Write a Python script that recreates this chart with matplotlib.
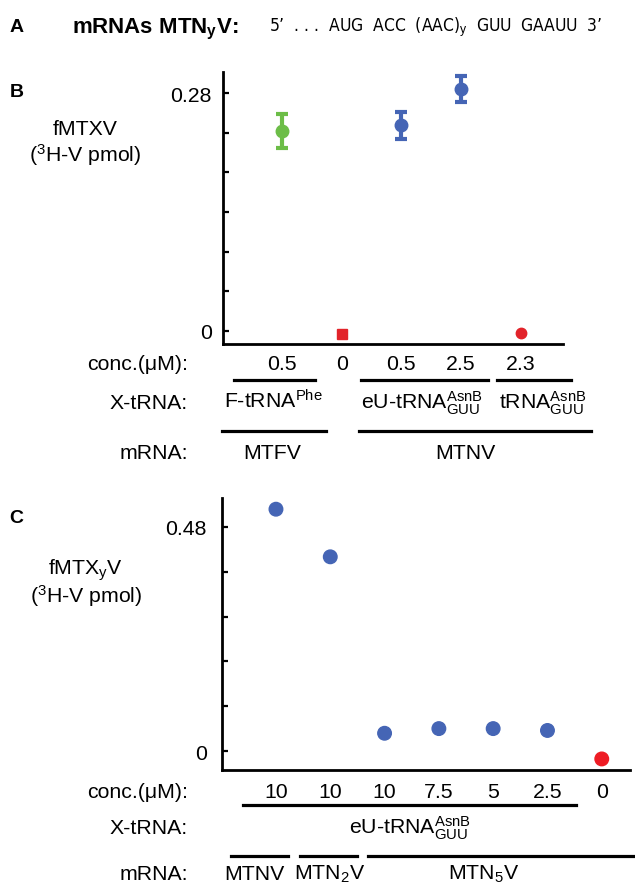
import numpy as np
import matplotlib.pyplot as plt
from matplotlib.lines import Line2D
from matplotlib.transforms import blended_transform_factory

W, H = 635, 887
plt.rcParams['font.family'] = ['Liberation Sans', 'DejaVu Sans']
plt.rcParams['mathtext.fontset'] = 'custom'
plt.rcParams['mathtext.rm'] = 'Liberation Sans'
plt.rcParams['mathtext.it'] = 'Liberation Sans:italic'
plt.rcParams['mathtext.bf'] = 'Liberation Sans:bold'

BLUE = '#4565b5'
GREEN = '#6cbd47'
RED = '#e2232a'

# panel B values
b_pos = [1, 2, 3, 4, 5]
b_vals = [0.235, -0.004, 0.242, 0.285, -0.003]
b_err = [0.020, 0.0, 0.016, 0.015, 0.0]
b_colors = [GREEN, RED, BLUE, BLUE, RED]
b_markers = ['o', 's', 'o', 'o', 'o']
b_conc = ['0.5', '0', '0.5', '2.5', '2.3']
b_ticks = np.linspace(0, 0.28, 7)

# panel C values
c_pos = [1, 2, 3, 4, 5, 6, 7]
c_vals = [0.518, 0.416, 0.038, 0.048, 0.048, 0.044, -0.017]
c_colors = [BLUE] * 6 + ['#ee1c24']
c_conc = ['10', '10', '10', '7.5', '5', '2.5', '0']
c_ticks = np.linspace(0, 0.48, 6)

FS = 15.3


def fy(y):
    return 1 - y / H


fig = plt.figure(figsize=(W / 100, H / 100), dpi=100)


def style_axes(ax, ticks, top_label, pad):
    for s in ['top', 'right']:
        ax.spines[s].set_visible(False)
    for s in ['left', 'bottom']:
        ax.spines[s].set_linewidth(2.0)
    ax.set_xticks([])
    ax.set_yticks(ticks)
    labels = [''] * len(ticks)
    labels[0] = '0'
    labels[-1] = top_label
    ax.set_yticklabels(labels)
    ax.tick_params(axis='y', direction='in', length=4.5, width=1.6,
                   labelsize=FS, pad=pad)


def hline(ax, x0, x1, ypx):
    tr = blended_transform_factory(ax.transData, fig.transFigure)
    ax.add_line(Line2D([x0, x1], [fy(ypx), fy(ypx)], transform=tr,
                       color='black', lw=2.3, clip_on=False))


def put(ax, x, ypx, s, **kw):
    tr = blended_transform_factory(ax.transData, fig.transFigure)
    ax.text(x, fy(ypx), s, transform=tr, ha='center', va='baseline',
            fontsize=FS, clip_on=False, **kw)


# ---- panel A ----
fig.text(10 / W, fy(32), 'A', fontsize=14, fontweight='bold', va='baseline')
fig.text(72 / W, fy(33), r'mRNAs MTN$_{\mathbf{y}}$V:', fontsize=16,
         fontweight='bold', va='baseline')
fig.text(269 / W, fy(32), "5’  . . .  AUG  ACC  (AAC)$_{\\rm y}$  GUU  GAAUU  3’",
         fontsize=12.5, va='baseline', family='DejaVu Sans',
         fontstretch='condensed')

# ---- panel B ----
axB = fig.add_axes([223 / W, fy(345), (563 - 223) / W, (345 - 73) / H])
style_axes(axB, b_ticks, '0.28', 8)
axB.set_xlim(0.01, 5.71)
axB.set_ylim(-0.0157, 0.305)
for x, v, e, c, m in zip(b_pos, b_vals, b_err, b_colors, b_markers):
    if e > 0:
        axB.errorbar(x, v, yerr=e, fmt=m, color=c, ms=9, elinewidth=3,
                     capsize=4.5, capthick=3, clip_on=False)
    else:
        axB.plot(x, v, m, color=c, ms=7.5, clip_on=False)

fig.text(10 / W, fy(97), 'B', fontsize=14, fontweight='bold', va='baseline')
fig.text(85 / W, fy(135), 'fMTXV', fontsize=FS, ha='center', va='baseline')
fig.text(85 / W, fy(162), r'($^{3}$H-V pmol)', fontsize=FS, ha='center',
         va='baseline')

fig.text(188 / W, fy(370), 'conc.(μM):', fontsize=FS, ha='right', va='baseline')
fig.text(188 / W, fy(409), 'X-tRNA:', fontsize=FS, ha='right', va='baseline')
fig.text(188 / W, fy(459), 'mRNA:', fontsize=FS, ha='right', va='baseline')

for x, s in zip(b_pos, b_conc):
    put(axB, x, 370, s)
hline(axB, 0.19, 1.55, 381)
hline(axB, 2.33, 4.45, 381)
hline(axB, 4.61, 5.84, 381)
put(axB, 0.85, 409, r'F-tRNA$^{\rm Phe}$')
put(axB, 3.35, 409, r'eU-tRNA$^{\rm AsnB}_{\rm GUU}$')
put(axB, 5.37, 409, r'tRNA$^{\rm AsnB}_{\rm GUU}$')
hline(axB, -0.01, 1.74, 432)
hline(axB, 2.29, 6.18, 432)
put(axB, 0.83, 459, 'MTFV')
put(axB, 4.08, 459, 'MTNV')

# ---- panel C ----
axC = fig.add_axes([222 / W, fy(771), (630 - 222) / W, (771 - 499) / H])
style_axes(axC, c_ticks, '0.48', 11)
axC.set_xlim(0.006, 7.52)
axC.set_ylim(-0.0407, 0.542)
axC.scatter(c_pos, c_vals, s=95, c=c_colors, clip_on=False, zorder=3)

fig.text(9 / W, fy(523), 'C', fontsize=14, fontweight='bold', va='baseline')
fig.text(86 / W, fy(575), r'fMTX$_{\rm y}$V', fontsize=FS, ha='center',
         va='baseline')
fig.text(86 / W, fy(603), r'($^{3}$H-V pmol)', fontsize=FS, ha='center',
         va='baseline')

fig.text(188 / W, fy(798), 'conc.(μM):', fontsize=FS, ha='right', va='baseline')
fig.text(188 / W, fy(834), 'X-tRNA:', fontsize=FS, ha='right', va='baseline')
fig.text(188 / W, fy(880), 'mRNA:', fontsize=FS, ha='right', va='baseline')

for x, s in zip(c_pos, c_conc):
    put(axC, x, 798, s)
hline(axC, 0.39, 6.52, 806)
put(axC, 3.47, 834, r'eU-tRNA$^{\rm AsnB}_{\rm GUU}$')
hline(axC, 0.17, 1.22, 857)
hline(axC, 1.44, 2.49, 857)
hline(axC, 2.69, 7.60, 857)
put(axC, 0.61, 880, 'MTNV')
put(axC, 1.99, 880, r'MTN$_{\rm 2}$V')
put(axC, 4.83, 880, r'MTN$_{\rm 5}$V')

fig.savefig('out.png', dpi=100)
